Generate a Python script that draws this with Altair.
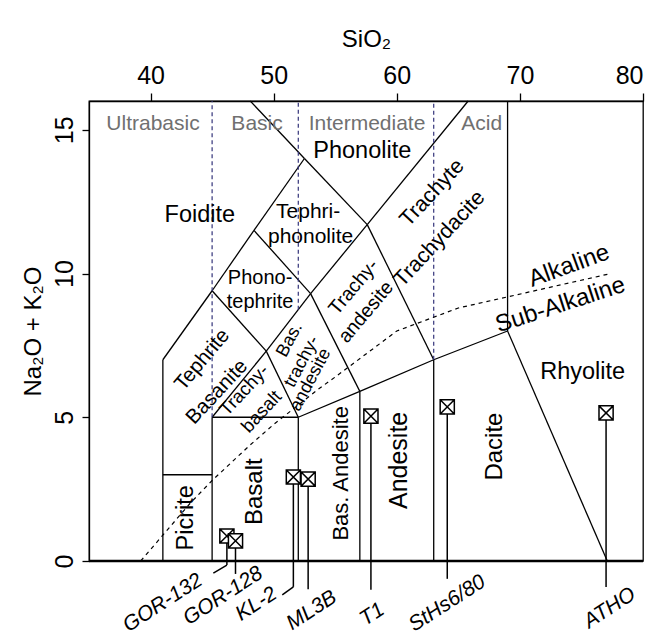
import altair as alt
import pandas as pd

# --- TAS field boundaries (SiO2 wt%, Na2O+K2O wt%) as line segments ---
bound_x1 = [41, 41, 45, 41, 45, 48.4, 52.5, 45, 49.4, 53, 57.6, 45, 49.4, 48.4, 53, 52.5, 57.6, 45, 52, 57, 63, 69, 69, 52, 57, 63]
bound_y1 = [0, 3, 0, 7, 9.4, 11.5, 14, 5, 7.3, 9.3, 11.7, 9.4, 7.3, 11.5, 9.3, 14, 11.7, 5, 5, 5.9, 7, 8, 8, 0, 0, 0]
bound_x2 = [41, 45, 45, 45, 48.4, 52.5, 48.1, 49.4, 53, 57.6, 65.8, 49.4, 52, 53, 57, 57.6, 63, 52, 57, 63, 69, 69, 77.1, 52, 57, 63]
bound_y2 = [7, 3, 5, 9.4, 11.5, 14, 16, 7.3, 9.3, 11.7, 16, 7.3, 5, 9.3, 5.9, 11.7, 7, 5, 5.9, 7, 8, 16, 0, 5, 5.9, 7]

# Ultrabasic / basic / intermediate / acid divisions
div_x = [45, 52, 63]
div_ymin = [5, 8.74, 7]
div_ymax = [16, 16, 16]

# Alkaline / sub-alkaline divide
alk_x = [39.2, 40, 43.2, 45, 48, 50, 53.7, 55, 60, 65, 77.4]
alk_y = [0, 0.4, 2, 2.8, 4, 4.75, 6, 6.4, 8, 8.8, 10]

# Samples
sample_names = ["GOR-132", "GOR-128", "KL-2", "ML3B", "T1", "StHs6/80", "ATHO"]
sample_sio2 = [46.2, 46.9, 51.6, 52.8, 57.9, 64.1, 77.0]
sample_alk = [0.87, 0.70, 2.92, 2.85, 5.04, 5.36, 5.15]
# sample tag placement below the diagram
stem_end = [-0.14, -0.45, -0.9, -0.98, -1.0, -0.62, -0.9]
tag_x = [41.0, 45.9, 48.6, 53.1, 58.0, 64.1, 77.3]
tag_y = [-1.46, -1.22, -1.5, -1.72, -1.86, -1.48, -1.64]
# leader ticks from stem end to tag
lead_x1 = [46.2, 51.6]
lead_y1 = [-0.14, -0.9]
lead_x2 = [45.1, 50.7]
lead_y2 = [-0.42, -1.18]

# Rock names
name_text = ["Phonolite", "Foidite", "Tephri-", "phonolite", "Phono-", "tephrite",
             "Tephrite", "Basanite", "Trachy-", "basalt", "Bas.", "trachy-", "andesite",
             "Trachy-", "andesite", "Trachyte", "Trachydacite", "Alkaline", "Sub-Alkaline",
             "Rhyolite", "Dacite", "Andesite", "Bas. Andesite", "Basalt", "Picrite"]
name_x = [57.2, 44.0, 52.8, 53.0, 48.9, 48.9,
          44.2, 45.4, 47.6, 49.0, 51.3, 52.3, 53.0,
          56.5, 57.5, 62.9, 63.5, 74.0, 73.3,
          75.1, 68.0, 60.2, 55.5, 48.5, 42.9]
name_y = [14.26, 12.03, 12.14, 11.27, 9.84, 9.0,
          7.0, 5.88, 5.95, 5.2, 7.69, 6.93, 6.3,
          9.53, 8.66, 12.8, 11.2, 10.26, 8.9,
          6.58, 3.98, 3.5, 3.05, 2.41, 1.5]
name_angle = [0, 0, 0, 0, 0, 0,
              310, 313, 313, 313, 298, 298, 298,
              310, 310, 313, 313, 340, 342,
              0, 270, 270, 270, 270, 270]
name_size = [23.5, 23.5, 21, 21, 20, 20,
             20.5, 20.5, 18.5, 18.5, 18, 18, 18,
             19.5, 19.5, 21.5, 21.5, 24, 24,
             23.5, 24, 25, 22, 24, 23.5]

group_text = ["Ultrabasic", "Basic", "Intermediate", "Acid"]
group_x = [40.2, 48.65, 57.58, 66.9]
group_y = [15.2, 15.2, 15.2, 15.2]

FONT = "Liberation Sans"

xs = alt.Scale(domain=[35, 80], nice=False, zero=False)
ys = alt.Scale(domain=[0, 16], nice=False, zero=False)

bounds = pd.DataFrame({"x": bound_x1, "y": bound_y1, "x2": bound_x2, "y2": bound_y2})
base = alt.Chart(bounds).mark_rule(color="black", strokeWidth=1.3).encode(
    x=alt.X("x:Q", scale=xs,
            axis=alt.Axis(orient="top", values=[40, 50, 60, 70, 80], tickSize=8,
                          labelPadding=5, title="SiO₂", titlePadding=12)),
    y=alt.Y("y:Q", scale=ys,
            axis=alt.Axis(values=[0, 5, 10, 15], tickSize=7, labelAngle=270,
                          labelPadding=5, title="Na₂O + K₂O", titlePadding=7)),
    x2="x2:Q", y2="y2:Q",
)

divs = pd.DataFrame({"x": div_x, "y": div_ymin, "y2": div_ymax})
div_layer = alt.Chart(divs).mark_rule(color="#34347a", strokeWidth=1.2, strokeDash=[4, 3]).encode(
    x="x:Q", y="y:Q", y2="y2:Q")

alk = pd.DataFrame({"x": alk_x, "y": alk_y})
alk_layer = alt.Chart(alk).mark_line(color="black", strokeWidth=1.2, strokeDash=[4, 4]).encode(
    x="x:Q", y="y:Q")

baseline = alt.Chart(pd.DataFrame({"y": [0]})).mark_rule(color="black", strokeWidth=2.5).encode(
    y="y:Q", x=alt.value(0), x2=alt.value(554))

samples = pd.DataFrame({"name": sample_names, "x": sample_sio2, "y": sample_alk,
                        "yb": stem_end, "tx": tag_x, "ty": tag_y})
stems = alt.Chart(samples).mark_rule(color="black", strokeWidth=1.5).encode(
    x="x:Q", y="y:Q", y2="yb:Q")

leads = pd.DataFrame({"x": lead_x1, "y": lead_y1, "x2": lead_x2, "y2": lead_y2})
lead_layer = alt.Chart(leads).mark_rule(color="black", strokeWidth=1.5).encode(
    x="x:Q", y="y:Q", x2="x2:Q", y2="y2:Q")

marker_path = "M-1,-1H1V1H-1ZM-1,-1L1,1M-1,1L1,-1"
markers = alt.Chart(samples).mark_point(
    shape=marker_path, size=200, filled=False, fill="white", fillOpacity=1,
    stroke="black", strokeWidth=1.5, opacity=1).encode(x="x:Q", y="y:Q")

tags = alt.Chart(samples).mark_text(
    font=FONT, fontSize=21, fontStyle="italic", angle=327, color="black",
    align="center", baseline="middle").encode(
    x="tx:Q", y="ty:Q", text="name:N")

names = pd.DataFrame({"t": name_text, "x": name_x, "y": name_y, "a": name_angle, "s": name_size})
name_layer = alt.Chart(names).mark_text(
    font=FONT, color="black", align="center", baseline="middle").encode(
    x="x:Q", y="y:Q", text="t:N",
    angle=alt.Angle("a:Q", scale=None), size=alt.Size("s:Q", scale=None))

groups = pd.DataFrame({"t": group_text, "x": group_x, "y": group_y})
group_layer = alt.Chart(groups).mark_text(
    font=FONT, fontSize=21, color="#707070", align="center", baseline="middle").encode(
    x="x:Q", y="y:Q", text="t:N")

chart = alt.layer(
    base, div_layer, alk_layer, baseline, stems, lead_layer, markers, tags, name_layer, group_layer
).properties(
    width=554, height=460,
    padding={"left": 89, "top": 101, "right": 16, "bottom": 70},
    autosize=alt.AutoSizeParams(type="none"),
).configure_view(
    stroke="black", strokeWidth=1.3
).configure_axis(
    grid=False, domainColor="black", tickColor="black", labelColor="black",
    titleColor="black", labelFont=FONT, titleFont=FONT, labelFontSize=25,
    titleFontSize=24, titleFontWeight="normal", domainWidth=1.3, tickWidth=1.3,
)

chart.save("out.html", embed_options={"renderer": "svg", "actions": False})
